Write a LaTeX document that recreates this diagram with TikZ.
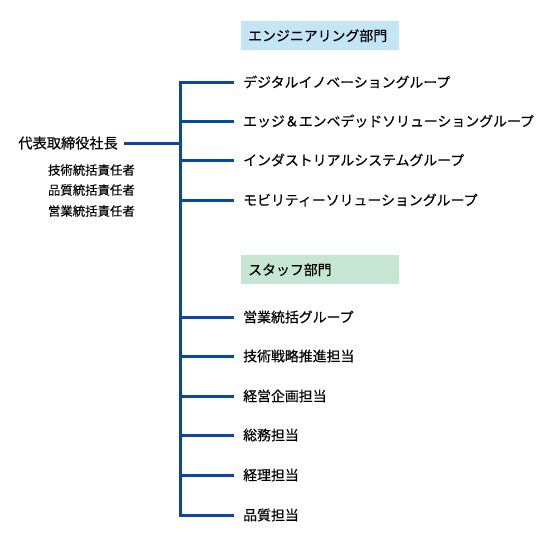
\documentclass[tikz,border=0pt]{standalone}
\usepackage{fontspec}
\setmainfont{Noto Sans CJK JP}
\newfontfamily\jpmed[FakeBold=0.35]{Noto Sans CJK JP}
\definecolor{trunkblue}{RGB}{8,72,160}
\definecolor{engblue}{RGB}{196,229,246}
\definecolor{staffgreen}{RGB}{196,230,211}
\tikzset{
  item/.style={anchor=west, inner xsep=9pt, inner ysep=0pt, font=\jpmed\fontsize{13.9}{16}\selectfont},
  head/.style={anchor=north west, inner xsep=7pt, inner ysep=0pt, minimum width=158pt, minimum height=29pt, text width=144pt, align=left, font=\jpmed\fontsize{13.9}{16}\selectfont},
  duty/.style={anchor=east, inner sep=0pt, font=\jpmed\fontsize{12.4}{14}\selectfont},
  branch/.style={trunkblue, line width=3pt}
}
\begin{document}
\begin{tikzpicture}[x=1pt, y=-1pt, line join=miter]
    \useasboundingbox (0,0) rectangle (553,550);
    % 幹線の位置
    \coordinate (top) at (180,82);

    % 部門見出し
    \node[head, fill=engblue] (eng) at (241,21) {エンジニアリング部門};
    \node[head, fill=staffgreen] (staff) at (241,255) {スタッフ部門};

    % 代表
    \node[anchor=east, inner xsep=6pt, inner ysep=0pt, font=\jpmed\fontsize{14.2}{16}\selectfont] (ceo) at (124,143) {代表取締役社長};
    \node[duty] (d1) at (135,170) {技術統括責任者};
    \node[duty] (d2) at (135,190) {品質統括責任者};
    \node[duty] (d3) at (135,211) {営業統括責任者};

    % エンジニアリング部門のグループ
    \node[item] (g1) at (234,82) {デジタルイノベーショングループ};
    \node[item] (g2) at (234,121) {エッジ＆エンベデッドソリューショングループ};
    \node[item] (g3) at (234,160) {インダストリアルシステムグループ};
    \node[item] (g4) at (234,200) {モビリティーソリューショングループ};

    % スタッフ部門
    \node[item] (s1) at (234,317) {営業統括グループ};
    \node[item] (s2) at (234,356) {技術戦略推進担当};
    \node[item] (s3) at (234,396) {経営企画担当};
    \node[item] (s4) at (234,435) {総務担当};
    \node[item] (s5) at (234,475) {経理担当};
    \node[item] (s6) at (234,515) {品質担当};

    % 幹線と枝
    \draw[branch] (g1.west) -- (g1.west -| top) -- (s6.west -| top) -- (s6.west);
    \draw[branch] (ceo.east) -- (ceo.east -| top);
    \draw[branch] (g2.west -| top) -- (g2.west);
    \draw[branch] (g3.west -| top) -- (g3.west);
    \draw[branch] (g4.west -| top) -- (g4.west);
    \draw[branch] (s1.west -| top) -- (s1.west);
    \draw[branch] (s2.west -| top) -- (s2.west);
    \draw[branch] (s3.west -| top) -- (s3.west);
    \draw[branch] (s4.west -| top) -- (s4.west);
    \draw[branch] (s5.west -| top) -- (s5.west);
\end{tikzpicture}
\end{document}
